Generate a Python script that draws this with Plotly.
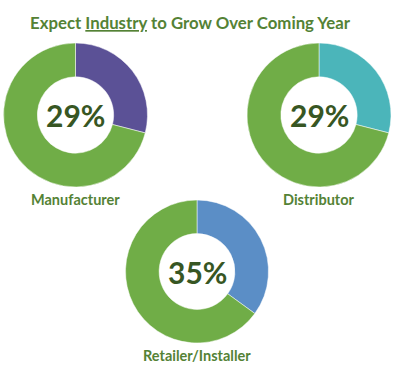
import plotly.graph_objects as go

categories = ["Manufacturer", "Distributor", "Retailer/Installer"]
expect_grow = [29, 29, 35]
other = [71, 71, 65]
accent_colors = ["#5B5196", "#4BB5BA", "#5B8EC6"]
green = "#70AD47"
title_text = "Expect <u>Industry</u> to Grow Over Coming Year"

W, H = 400, 368
# pie domains (paper coords)
domains = [
    dict(x=[0.00875, 0.36875], y=[0.4918, 0.8832]),
    dict(x=[0.6175, 0.9775], y=[0.4918, 0.8832]),
    dict(x=[0.31375, 0.67125], y=[0.0679, 0.4565]),
]
label_y = [1 - 199 / H, 1 - 199 / H, 1 - 355 / H]

fig = go.Figure()
annotations = []
for i, cat in enumerate(categories):
    d = domains[i]
    fig.add_trace(go.Pie(
        values=[expect_grow[i], other[i]],
        labels=["Grow", "Other"],
        hole=0.53,
        sort=False,
        direction="clockwise",
        rotation=0,
        marker=dict(colors=[accent_colors[i], green], line=dict(color="white", width=0.5)),
        textinfo="none",
        hoverinfo="label+value",
        domain=d,
        showlegend=False,
    ))
    cx = (d["x"][0] + d["x"][1]) / 2
    cy = (d["y"][0] + d["y"][1]) / 2
    annotations.append(dict(
        text=f"<b>{expect_grow[i]}%</b>", x=cx, y=cy, xref="paper", yref="paper",
        showarrow=False, font=dict(family="Lato", size=30, color="#375623"),
        xanchor="center", yanchor="middle",
    ))
    annotations.append(dict(
        text=f"<b>{cat}</b>", x=cx, y=label_y[i], xref="paper", yref="paper",
        showarrow=False, font=dict(family="Lato", size=14.5, color="#548235"),
        xanchor="center", yanchor="middle",
    ))

annotations.append(dict(
    text=f"<b>{title_text}</b>", x=190 / W, y=1 - 22 / H, xref="paper", yref="paper",
    showarrow=False, font=dict(family="Lato", size=16.8, color="#548235"),
    xanchor="center", yanchor="middle",
))

fig.update_layout(
    width=W, height=H,
    margin=dict(l=0, r=0, t=0, b=0),
    paper_bgcolor="white", plot_bgcolor="white",
    annotations=annotations,
)
fig.write_html(
    "out.html",
    config={"displayModeBar": False},
    post_script="document.body.style.margin='0';document.body.style.overflow='hidden';",
)
